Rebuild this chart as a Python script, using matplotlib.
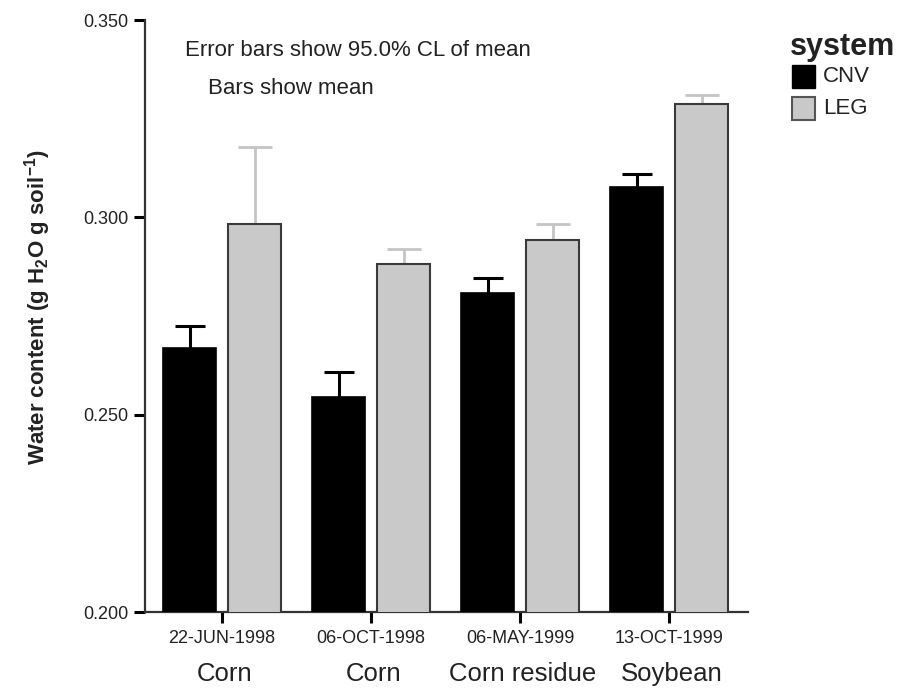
import matplotlib
matplotlib.use("Agg")
import matplotlib.pyplot as plt
from matplotlib.patches import Rectangle
import numpy as np

plt.rcParams['font.family'] = ['Liberation Sans', 'DejaVu Sans']
plt.rcParams['mathtext.fontset'] = 'custom'
plt.rcParams['mathtext.bf'] = 'Liberation Sans:bold'
plt.rcParams['mathtext.rm'] = 'Liberation Sans:bold'

dates = ["22-JUN-1998", "06-OCT-1998", "06-MAY-1999", "13-OCT-1999"]
crops = ["Corn", "Corn", "Corn residue", "Soybean"]
systems = ["CNV", "LEG"]
cnv_mean = [0.2669, 0.2544, 0.2808, 0.3078]
cnv_ci = [0.0055, 0.0064, 0.0038, 0.0033]
leg_mean = [0.2984, 0.2883, 0.2942, 0.3286]
leg_ci = [0.0194, 0.0038, 0.0040, 0.0025]
yticks = [0.200, 0.250, 0.300, 0.350]

W, H = 903, 690
fig = plt.figure(figsize=(W / 100, H / 100), dpi=100)
ax = fig.add_axes([145 / W, 1 - 612 / H, 603 / W, 592 / H])

x = np.arange(len(dates))
bw = 0.356
off = 0.218
txt = '#222222'

ax.bar(x - off, cnv_mean, width=bw, color='black', edgecolor='black', linewidth=1.2, zorder=3)
ax.bar(x + off, leg_mean, width=bw, color='#c9c9c9', edgecolor='#3a3a3a', linewidth=1.5, zorder=3)
ax.errorbar(x - off, cnv_mean, yerr=cnv_ci, fmt='none', ecolor='black', elinewidth=2.2,
            capsize=10.5, capthick=2.2, zorder=2)
ax.errorbar(x + off, leg_mean, yerr=leg_ci, fmt='none', ecolor='#c4c4c4', elinewidth=2.0,
            capsize=12, capthick=2.0, zorder=2)

ax.set_ylim(0.2, 0.35)
ax.set_xlim(-0.517, 3.53)
ax.set_yticks(yticks)
ax.set_yticklabels([f"{v:.3f}" for v in yticks], fontsize=13, color=txt)
ax.set_xticks(x)
ax.set_xticklabels(dates, fontsize=13, color=txt)
ax.tick_params(axis='y', direction='out', length=8, width=2.2, pad=4)
ax.tick_params(axis='x', direction='out', length=8, width=2.2, pad=5)
for s in ['top', 'right']:
    ax.spines[s].set_visible(False)
for s in ['left', 'bottom']:
    ax.spines[s].set_linewidth(1.6)
    ax.spines[s].set_color('#333333')

for i, c in enumerate(crops):
    ax.text(x[i] + 0.02, -0.105, c, transform=ax.get_xaxis_transform(), ha='center', va='center',
            fontsize=18.5, color=txt)

ax.set_ylabel(r'Water content (g H$_\mathbf{2}$O g soil$^{\mathbf{-1}}$)', fontsize=16,
              fontweight='bold', color=txt)
ax.yaxis.set_label_coords(-(145 - 53) / 603, (612 - 307) / 592)

fig.text(185 / W, 1 - 51 / H, "Error bars show 95.0% CL of mean", fontsize=16, color=txt,
         ha='left', va='center')
fig.text(208 / W, 1 - 88 / H, "Bars show mean", fontsize=16, color=txt, ha='left', va='center')

# legend
fig.text(790 / W, 1 - 47 / H, "system", fontsize=22, fontweight='bold', color=txt,
         ha='left', va='center')
fig.patches.append(Rectangle((792 / W, 1 - 88 / H), 23 / W, 23 / H, transform=fig.transFigure,
                             facecolor='black', edgecolor='black', linewidth=1))
fig.patches.append(Rectangle((792 / W, 1 - 120 / H), 23 / W, 23 / H, transform=fig.transFigure,
                             facecolor='#c9c9c9', edgecolor='#555555', linewidth=1.5))
fig.text(823 / W, 1 - 77 / H, systems[0], fontsize=16, color=txt, ha='left', va='center')
fig.text(823 / W, 1 - 109 / H, systems[1], fontsize=16, color=txt, ha='left', va='center')

fig.savefig("out.png", dpi=100)
